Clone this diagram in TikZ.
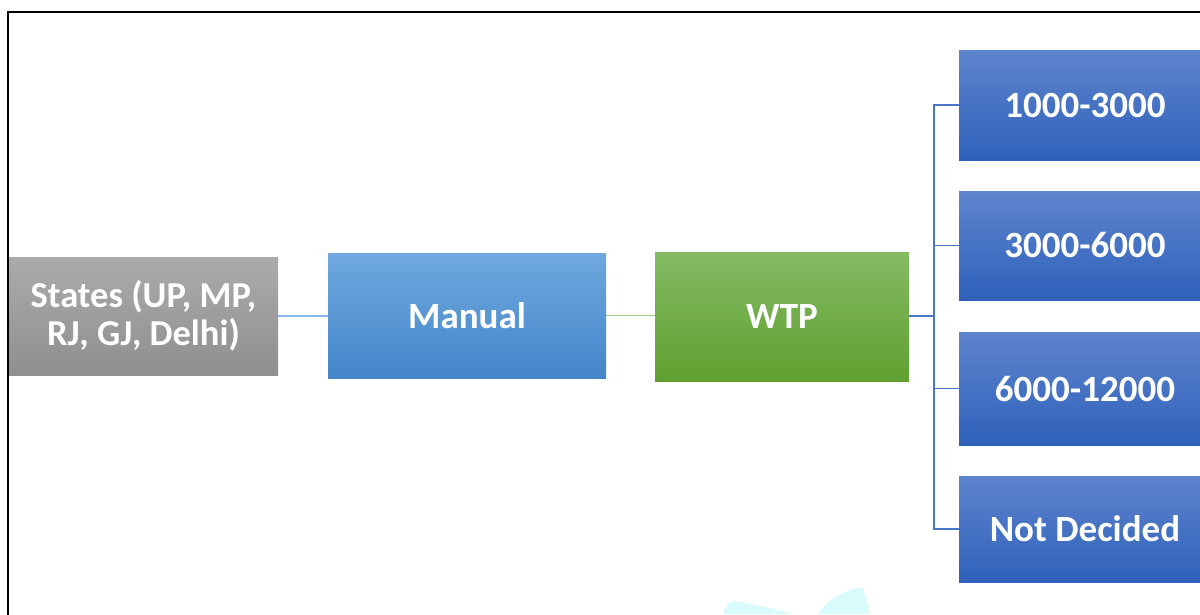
\documentclass[tikz,border=0pt]{standalone}
\usepackage{fontspec}
\setmainfont{Carlito}
\definecolor{grayT}{HTML}{ABABAB}
\definecolor{grayB}{HTML}{8F8F8F}
\definecolor{manT}{HTML}{6EA8DE}
\definecolor{manB}{HTML}{4486CA}
\definecolor{wtpT}{HTML}{84BB64}
\definecolor{wtpB}{HTML}{60A030}
\definecolor{rT}{HTML}{5E84CD}
\definecolor{rB}{HTML}{2F61BA}
\definecolor{linkA}{HTML}{8AB6E3}
\definecolor{linkB}{HTML}{A0CE84}
\definecolor{linkC}{HTML}{4A76C6}
\definecolor{wm}{HTML}{DAFBFC}
\tikzset{
  box/.style={draw=none, inner sep=0pt, text=white, font=\bfseries\fontsize{37}{45}\selectfont, align=center},
  graybox/.style={box, top color=grayT, bottom color=grayB, font=\bfseries\fontsize{36.5}{38}\selectfont},
  manbox/.style={box, top color=manT, bottom color=manB},
  wtpbox/.style={box, top color=wtpT, bottom color=wtpB},
  rbox/.style={box, top color=rT, bottom color=rB, minimum width=252pt},
  lnA/.style={draw=linkA, line width=1.3pt},
  lnB/.style={draw=linkB, line width=1.3pt},
  lnC/.style={draw=linkC, line width=1.4pt},
}
\begin{document}
\begin{tikzpicture}[x=1pt,y=-1pt]
\useasboundingbox (0,0) rectangle (1200,614);
\fill[white] (0,0) rectangle (1200,614);
% watermark
\fill[wm] (723,614) .. controls (726,606) and (730,600) .. (734,601) .. controls (752,604) and (775,609) .. (792,614) -- cycle;
\fill[wm] (818,614) .. controls (826,600) and (845,590) .. (862,587) .. controls (866,595) and (869,605) .. (870,614) -- cycle;
% frame
\draw[line width=2pt] (8,640) -- (8,12) -- (1220,12);
% nodes
\node[graybox, minimum width=269pt, minimum height=118pt] (states) at (143.5,316) {States (UP, MP,\\RJ, GJ, Delhi)};
\node[manbox, minimum width=278pt, minimum height=125pt] (manual) at (467,315.5) {Manual};
\node[wtpbox, minimum width=254pt, minimum height=129pt] (wtp) at (782,316.5) {WTP};
\node[rbox, minimum height=110pt] (r1) at (1085,105) {1000-3000};
\node[rbox, minimum height=109pt] (r2) at (1085,245.5) {3000-6000};
\node[rbox, minimum height=113pt] (r3) at (1085,388.5) {6000-12000};
\node[rbox, minimum height=106pt] (r4) at (1085,529) {Not Decided};
% connectors
\draw[lnA] (states.east) -- (manual.west |- states.east);
\draw[lnB] (manual.east) -- (wtp.west |- manual.east);
\coordinate (bus) at (934,316);
\draw[lnC] (wtp.east |- bus) -- (bus);
\foreach \r in {r1,r2,r3,r4} \draw[lnC] (bus) |- (\r.west);
\end{tikzpicture}
\end{document}
